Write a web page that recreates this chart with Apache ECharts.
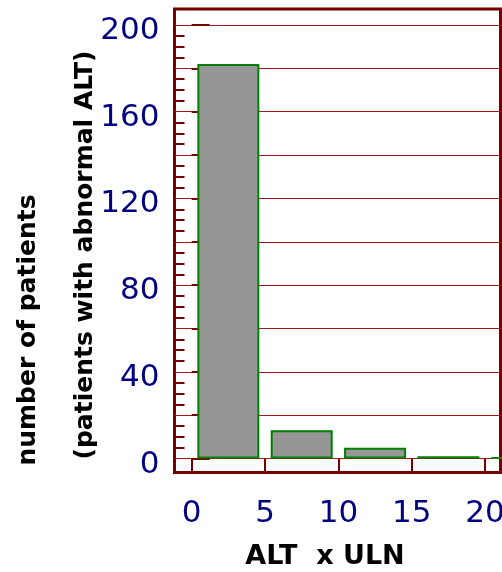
<!DOCTYPE html>
<html>
<head>
<meta charset="utf-8">
<script src="https://cdn.jsdelivr.net/npm/echarts@6/dist/echarts.min.js"></script>
<style>
html, body { margin: 0; padding: 0; background: #fff; }
#chart { width: 502px; height: 572px; }
</style>
</head>
<body>
<div id="chart"></div>
<script>
var binCenters = [2.5, 7.5, 12.5, 17.5, 22.5];
var patientCounts = [182, 13, 5, 1, 0.5];
var xTicks = [0, 5, 10, 15, 20];
var yLabelTicks = [0, 40, 80, 120, 160, 200];
var yMajorTicks = [0, 20, 40, 60, 80, 100, 120, 140, 160, 180, 200];
var yMinorTicks = [];
for (var v = 5; v < 200; v += 5) {
    if (v % 20 !== 0) yMinorTicks.push(v);
}

var maroon = '#750000';
var navy = '#000080';
var font = 'DejaVu Sans';

var dom = document.getElementById('chart');
var myChart = echarts.init(dom);

var barData = binCenters.map(function (x, i) { return [x, patientCounts[i]]; });

var option = {
    backgroundColor: '#fff',
    animation: false,
    grid: {
        left: 174.5,
        top: 9,
        right: 1.5,
        bottom: 99.5,
        outerBoundsMode: 'none',
        containLabel: false,
        show: true,
        borderColor: maroon,
        borderWidth: 3,
        backgroundColor: '#fff'
    },
    xAxis: {
        type: 'value',
        min: -1.17,
        max: 21.05,
        axisLine: { show: false, onZero: false },
        axisTick: {
            inside: true,
            length: 14,
            customValues: xTicks,
            lineStyle: { color: maroon, width: 2 }
        },
        axisLabel: {
            customValues: xTicks,
            color: navy,
            fontSize: 31,
            fontFamily: font,
            margin: 26,
            hideOverlap: false
        },
        splitLine: { show: false }
    },
    yAxis: [{
        type: 'value',
        position: 'left',
        min: -6.45,
        max: 207.4,
        axisLine: { show: false },
        axisTick: {
            inside: true,
            length: 18,
            customValues: yMajorTicks,
            lineStyle: { color: maroon, width: 2 }
        },
        axisLabel: {
            customValues: yLabelTicks,
            color: navy,
            fontSize: 31,
            fontFamily: font,
            margin: 15,
            verticalAlign: 'top',
            lineHeight: 12
        },
        splitLine: {
            show: true,
            lineStyle: { color: '#a01818', width: 1 }
        }
    }, {
        type: 'value',
        position: 'left',
        offset: 0,
        min: -6.45,
        max: 207.4,
        axisLine: { show: false },
        axisTick: {
            inside: true,
            length: 10,
            customValues: yMinorTicks,
            lineStyle: { color: maroon, width: 2 }
        },
        axisLabel: { show: false },
        splitLine: { show: false }
    }],
    series: [{
        type: 'bar',
        yAxisIndex: 0,
        barWidth: 62,
        clip: true,
        data: barData,
        itemStyle: {
            color: '#969696',
            borderColor: '#008000',
            borderWidth: 2
        }
    }],
    graphic: [{
        type: 'text',
        x: 28,
        y: 330,
        rotation: Math.PI / 2,
        style: {
            text: 'number of patients',
            fill: '#000',
            font: 'bold 25px "DejaVu Sans"',
            align: 'center',
            verticalAlign: 'middle'
        }
    }, {
        type: 'text',
        x: 85,
        y: 255,
        rotation: Math.PI / 2,
        style: {
            text: '(patients with abnormal ALT)',
            fill: '#000',
            font: 'bold 25px "DejaVu Sans"',
            align: 'center',
            verticalAlign: 'middle'
        }
    }, {
        type: 'text',
        x: 325,
        y: 557,
        style: {
            text: 'ALT  x ULN',
            fill: '#000',
            font: 'bold 27px "DejaVu Sans"',
            align: 'center',
            verticalAlign: 'middle'
        }
    }]
};

if (option && typeof option === "object") {
    myChart.setOption(option, true);
}
</script>
</body>
</html>
